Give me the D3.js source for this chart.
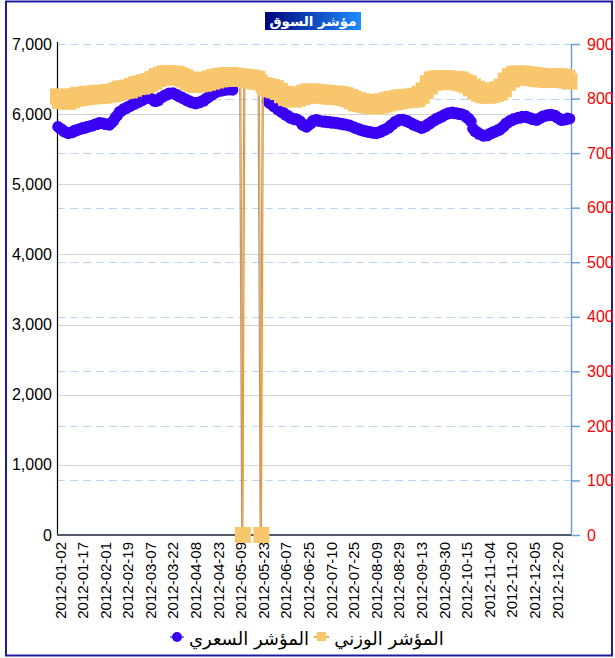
<!DOCTYPE html>
<html><head><meta charset="utf-8">
<script src="https://cdn.jsdelivr.net/npm/d3@7/dist/d3.min.js"></script>
<style>body{margin:0;background:#fff}svg{display:block}</style>
</head><body>
<svg id="chart" width="615" height="658"></svg>
<script>
const chartTitle = "مؤشر السوق";
const seriesNames = ["المؤشر السعري", "المؤشر الوزني"];
const tickLabels = ["2012-01-02","2012-01-17","2012-02-01","2012-02-19","2012-03-07","2012-03-22","2012-04-08","2012-04-23","2012-05-09","2012-05-23","2012-06-07","2012-06-25","2012-07-10","2012-07-25","2012-08-09","2012-08-29","2012-09-13","2012-09-30","2012-10-15","2012-11-04","2012-11-20","2012-12-05","2012-12-20"];
const labelEvery = 11;
const leftTicks = [0,1000,2000,3000,4000,5000,6000,7000];
const rightTicks = [0,100,200,300,400,500,600,700,800,900];

// price index (left axis), one value per trading day
const priceIndex = [
5820,5795,5780,5750,5742,5725,5738,5740,5765,5765,
5785,5785,5805,5800,5820,5820,5835,5835,5855,5855,
5875,5870,5870,5855,5855,5845,5875,5905,5955,5985,
6035,6045,6075,6080,6105,6110,6135,6140,6165,6168,
6190,6195,6220,6230,6250,6225,6210,6185,6185,6200,
6235,6245,6270,6275,6297,6295,6300,6280,6275,6250,
6245,6220,6215,6190,6185,6165,6165,6150,6165,6165,
6185,6190,6220,6235,6265,6275,6305,6310,6330,6333,
6335,6345,6350,6348,6352,6345,
null,null,null,null,null,null,null,null,null,null,null,null,null,null,null,null,
6185,6155,6145,6110,6100,6065,6055,6025,
6015,5985,5975,5945,5940,5925,5930,5912,5895,5845,
5835,5818,5845,5865,5905,5912,5920,5900,5903,5890,
5897,5883,5890,5875,5883,5870,5875,5860,5865,5850,
5855,5838,5840,5820,5817,5795,5795,5775,5775,5757,
5760,5743,5747,5731,5737,5725,5740,5745,5770,5773,
5795,5805,5840,5855,5890,5895,5920,5920,5923,5903,
5905,5880,5873,5845,5843,5825,5820,5800,5815,5825,
5855,5865,5895,5905,5933,5935,5960,5965,5990,5995,
6017,6013,6025,6010,6015,6000,6005,5990,5985,5950,
5935,5895,5795,5755,5745,5715,5710,5690,5695,5695,
5720,5725,5750,5750,5773,5775,5805,5825,5865,5880,
5905,5910,5935,5935,5953,5945,5965,5960,5965,5945,
5945,5925,5925,5913,5935,5945,5970,5970,5987,5983,
5995,5983,5980,5950,5940,5915,5920,5920,5940,5935
];

// weighted index (right axis), one value per trading day
const weightedIndex = [
804,796,801,795,799,794,802,797,805,800,
807,801,806,802,809,803,808,804,810,805,
811,805,810,806,812,807,811,808,815,810,
818,812,819,814,820,815,823,818,826,821,
828,822,830,824,832,827,836,831,841,836,
844,838,846,840,847,841,846,840,845,838,
842,835,839,830,835,827,833,825,832,826,
833,827,835,829,837,831,839,833,841,835,
842,836,843,837,843,836,842,837,841,838,
0,
840,834,839,833,838,831,836,830,
0,
825,819,823,817,821,815,819,812,814,806,
809,801,806,799,805,798,806,800,808,803,
811,805,813,806,813,807,812,806,811,805,
811,804,810,803,809,803,809,802,808,801,
806,799,803,795,800,791,797,790,795,788,
794,787,793,786,792,786,793,787,795,789,
797,791,799,793,800,794,802,796,803,797,
803,797,804,798,805,799,809,805,815,814,
828,822,835,829,837,830,837,830,837,831,
837,831,836,830,836,829,835,827,831,824,
828,819,822,813,818,809,815,806,814,805,
813,806,814,808,817,811,822,817,833,829,
841,835,845,839,846,840,846,839,845,838,
844,837,843,836,842,835,841,835,841,834,
841,835,841,834,841,834,840,833,838,831
];

const svg = d3.select("#chart");
const N = weightedIndex.length;
const plot = {left:57, right:571, top:44, bottom:535};

const x = d3.scaleLinear().domain([0, N-1]).range([58, 569.5]);
const yL = d3.scaleLinear().domain([0, 7000]).range([plot.bottom, plot.top]);
const yR = d3.scaleLinear().domain([0, 900]).range([plot.bottom, plot.top]);

// outer border
svg.append("rect").attr("x",6).attr("y",1.5).attr("width",606).attr("height",654)
  .attr("fill","none").attr("stroke","#1c1ca0").attr("stroke-width",2);

// title
const defs = svg.append("defs");
const grad = defs.append("linearGradient").attr("id","tg").attr("x1","0").attr("x2","1").attr("y1","0").attr("y2","0");
grad.append("stop").attr("offset","0").attr("stop-color","#00057a");
grad.append("stop").attr("offset","1").attr("stop-color","#1e8cff");
svg.append("rect").attr("x",265).attr("y",12).attr("width",96).attr("height",18).attr("fill","url(#tg)");
svg.append("text").attr("x",313).attr("y",26).attr("text-anchor","middle")
  .attr("font-family","DejaVu Sans").attr("font-weight","bold").attr("font-size",13.5)
  .attr("fill","#fff").text(chartTitle);

// gridlines
svg.append("g").selectAll("line").data(leftTicks.filter(t => t > 0 && t < 7000)).join("line")
  .attr("x1",plot.left).attr("x2",plot.right)
  .attr("y1",d => Math.round(yL(d))+0.5).attr("y2",d => Math.round(yL(d))+0.5)
  .attr("stroke","#d4d4d4").attr("stroke-width",1);
svg.append("g").selectAll("line").data(rightTicks.filter(t => t > 0)).join("line")
  .attr("x1",plot.left).attr("x2",plot.right)
  .attr("y1",d => Math.round(yR(d))+0.5).attr("y2",d => Math.round(yR(d))+0.5)
  .attr("stroke","#b9d6f4").attr("stroke-width",1).attr("stroke-dasharray","8,5");

// left axis
const gL = svg.append("g").attr("transform",`translate(${plot.left},0)`)
  .call(d3.axisLeft(yL).tickValues(leftTicks).tickFormat(d3.format(",")).tickSize(0).tickPadding(5));
gL.select(".domain").attr("stroke","#000").attr("stroke-width",1.2).attr("d",`M0.5,${plot.top-2}V${plot.bottom}`);
gL.selectAll("text").attr("font-family","Liberation Sans, Arial").attr("font-size",16).attr("fill","#000");

// right axis
const gR = svg.append("g").attr("transform",`translate(${plot.right},0)`)
  .call(d3.axisRight(yR).tickValues(rightTicks).tickSize(9).tickSizeOuter(0).tickPadding(7));
gR.select(".domain").attr("stroke","#6e9fd6").attr("stroke-width",1.5);
gR.selectAll(".tick line").attr("stroke","#6e9fd6").attr("stroke-width",1.5);
gR.selectAll("text").attr("font-family","Liberation Sans, Arial").attr("font-size",16).attr("fill","#ff0000");

// bottom axis
const tickIdx = tickLabels.map((_, k) => k * labelEvery);
const gB = svg.append("g").attr("transform",`translate(0,${plot.bottom})`)
  .call(d3.axisBottom(x).tickValues(tickIdx).tickFormat((d,i) => tickLabels[i]).tickSize(0).tickPadding(0));
gB.select(".domain").remove();
gB.selectAll("text")
  .attr("font-family","Liberation Sans, Arial").attr("font-size",15).attr("fill","#000")
  .attr("text-anchor","end").attr("y",0).attr("x",0)
  .attr("dy","0.4em")
  .attr("transform","translate(1,7) rotate(-90)");
svg.append("line").attr("x1",plot.left).attr("x2",plot.right).attr("y1",plot.bottom).attr("y2",plot.bottom)
  .attr("stroke","#555b66").attr("stroke-width",2);

// price series
const pricePts = priceIndex.map((v,i) => ({i, v})).filter(d => d.v !== null);
const lineL = d3.line().defined(d => d.v !== null).x(d => x(d.i)).y(d => yL(d.v));
svg.append("path").datum(priceIndex.map((v,i)=>({i,v}))).attr("d",lineL)
  .attr("fill","none").attr("stroke","#3300ff").attr("stroke-width",1.5);
svg.append("g").selectAll("circle").data(pricePts).join("circle")
  .attr("cx",d => x(d.i)).attr("cy",d => yL(d.v)).attr("r",5.8).attr("fill","#3a00f4");

// weighted series
const wPts = weightedIndex.map((v,i) => ({i, v}));
const lineR = d3.line().x(d => x(d.i)).y(d => yR(d.v));
svg.append("path").datum(wPts).attr("d",lineR).attr("transform","translate(-1.2,0.8)")
  .attr("fill","none").attr("stroke","#a8a091").attr("stroke-width",1.2);
svg.append("path").datum(wPts).attr("d",lineR)
  .attr("fill","none").attr("stroke","#f4982c").attr("stroke-width",1.2);
svg.append("g").selectAll("rect").data(wPts).join("rect")
  .attr("x",d => x(d.i)-8).attr("y",d => yR(d.v)-8).attr("width",16).attr("height",16)
  .attr("fill","#f8c66c");

// legend
const lg = svg.append("g");
lg.append("line").attr("x1",170).attr("x2",184).attr("y1",637).attr("y2",637).attr("stroke","#5a8cff").attr("stroke-width",2);
lg.append("circle").attr("cx",177).attr("cy",637).attr("r",5).attr("fill","#3a00f4");
lg.append("text").attr("x",249).attr("y",645).attr("text-anchor","middle")
  .attr("font-family","DejaVu Sans").attr("font-size",18).attr("fill","#000").text(seriesNames[0]);
lg.append("line").attr("x1",314).attr("x2",329).attr("y1",637).attr("y2",637).attr("stroke","#f4b04c").attr("stroke-width",2);
lg.append("rect").attr("x",317).attr("y",632).attr("width",9).attr("height",9).attr("fill","#f8c66c");
lg.append("text").attr("x",389).attr("y",645).attr("text-anchor","middle")
  .attr("font-family","DejaVu Sans").attr("font-size",18).attr("fill","#000").text(seriesNames[1]);
</script>
</body></html>
